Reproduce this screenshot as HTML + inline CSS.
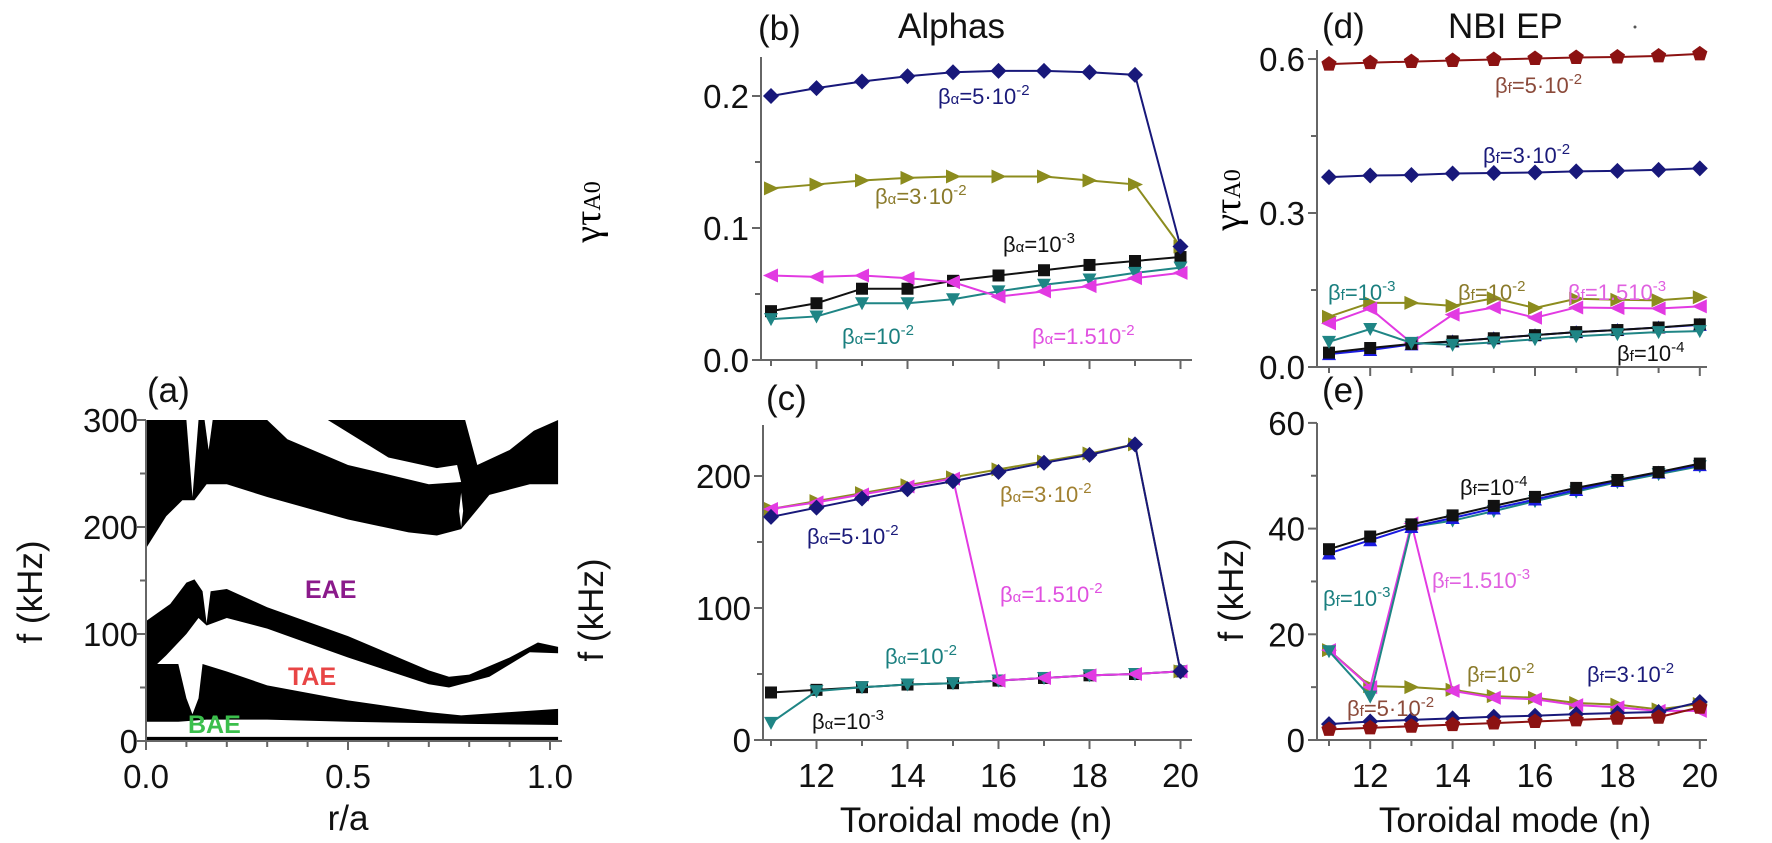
<!DOCTYPE html>
<html><head><meta charset="utf-8"><style>
html,body{margin:0;padding:0;background:#fff;}
svg{display:block;font-family:"Liberation Sans",sans-serif;}
.tl{font-size:33px;fill:#111;}
.hd{font-size:35px;fill:#111;}
.lb{font-size:22px;}
</style></head><body>
<svg id="fig" width="1772" height="843" viewBox="0 0 1772 843" xmlns="http://www.w3.org/2000/svg">
<g id="pa"></g>
<g id="pb"></g>
<g id="pc"></g>
<g id="pd"></g>
<g id="pe"></g>

<!-- headers -->
<text class="hd" x="147" y="402">(a)</text>
<text class="hd" x="758" y="40">(b)</text>
<text class="hd" x="898" y="38">Alphas</text>
<text class="hd" x="766" y="410">(c)</text>
<text class="hd" x="1322" y="38">(d)</text>
<text class="hd" x="1448" y="38">NBI EP</text>
<text class="hd" x="1322" y="402">(e)</text>
<circle cx="1635" cy="27" r="1.5" fill="#555"/>

<!-- axis titles -->
<text class="hd" transform="translate(42,592) rotate(-90)" text-anchor="middle">f (kHz)</text>
<text class="hd" x="348" y="830" text-anchor="middle">r/a</text>
<text transform="translate(600,212) rotate(-90)" text-anchor="middle" style="font-family:'Liberation Serif',serif;font-size:38px">γτ<tspan font-size="24px">A0</tspan></text>
<text class="hd" transform="translate(603,610) rotate(-90)" text-anchor="middle">f (kHz)</text>
<text class="hd" x="976" y="832" text-anchor="middle">Toroidal mode (n)</text>
<text transform="translate(1240,200) rotate(-90)" text-anchor="middle" style="font-family:'Liberation Serif',serif;font-size:38px">γτ<tspan font-size="24px">A0</tspan></text>
<text class="hd" transform="translate(1243,590) rotate(-90)" text-anchor="middle">f (kHz)</text>
<text class="hd" x="1515" y="832" text-anchor="middle">Toroidal mode (n)</text>

<!-- panel a labels -->
<text x="305" y="598" style="font-size:25px;font-weight:bold;fill:#8b1a8b">EAE</text>
<text x="288" y="685" style="font-size:25px;font-weight:bold;fill:#e84545">TAE</text>
<text x="188" y="733" style="font-size:25px;font-weight:bold;fill:#3bbf4c">BAE</text>

<!-- panel b labels -->
<text class="lb" x="938" y="104" fill="#1a1a7a">β<tspan font-size="15">α</tspan>=5·10<tspan dy="-9" font-size="15">-2</tspan></text>
<text class="lb" x="875" y="204" fill="#8a7a2a">β<tspan font-size="15">α</tspan>=3·10<tspan dy="-9" font-size="15">-2</tspan></text>
<text class="lb" x="1003" y="252" fill="#111">β<tspan font-size="15">α</tspan>=10<tspan dy="-9" font-size="15">-3</tspan></text>
<text class="lb" x="842" y="344" fill="#1a7f7f">β<tspan font-size="15">α</tspan>=10<tspan dy="-9" font-size="15">-2</tspan></text>
<text class="lb" x="1032" y="344" fill="#e050e0">β<tspan font-size="15">α</tspan>=1.510<tspan dy="-9" font-size="15">-2</tspan></text>
<!-- panel c labels -->
<text class="lb" x="807" y="544" fill="#1a1a7a">β<tspan font-size="15">α</tspan>=5·10<tspan dy="-9" font-size="15">-2</tspan></text>
<text class="lb" x="1000" y="502" fill="#a08030">β<tspan font-size="15">α</tspan>=3·10<tspan dy="-9" font-size="15">-2</tspan></text>
<text class="lb" x="1000" y="602" fill="#e050e0">β<tspan font-size="15">α</tspan>=1.510<tspan dy="-9" font-size="15">-2</tspan></text>
<text class="lb" x="885" y="664" fill="#1a7f7f">β<tspan font-size="15">α</tspan>=10<tspan dy="-9" font-size="15">-2</tspan></text>
<text class="lb" x="812" y="729" fill="#111">β<tspan font-size="15">α</tspan>=10<tspan dy="-9" font-size="15">-3</tspan></text>
<!-- panel d labels -->
<text class="lb" x="1495" y="93" fill="#8b4a3a">β<tspan font-size="15">f</tspan>=5·10<tspan dy="-9" font-size="15">-2</tspan></text>
<text class="lb" x="1483" y="163" fill="#1a1a7a">β<tspan font-size="15">f</tspan>=3·10<tspan dy="-9" font-size="15">-2</tspan></text>
<text class="lb" x="1328" y="300" fill="#1a7f7f">β<tspan font-size="15">f</tspan>=10<tspan dy="-9" font-size="15">-3</tspan></text>
<text class="lb" x="1458" y="300" fill="#8a7a2a">β<tspan font-size="15">f</tspan>=10<tspan dy="-9" font-size="15">-2</tspan></text>
<text class="lb" x="1568" y="300" fill="#e060e0">β<tspan font-size="15">f</tspan>=1.510<tspan dy="-9" font-size="15">-3</tspan></text>
<text class="lb" x="1617" y="361" fill="#111">β<tspan font-size="15">f</tspan>=10<tspan dy="-9" font-size="15">-4</tspan></text>
<!-- panel e labels -->
<text class="lb" x="1460" y="495" fill="#111">β<tspan font-size="15">f</tspan>=10<tspan dy="-9" font-size="15">-4</tspan></text>
<text class="lb" x="1323" y="606" fill="#1a7f7f">β<tspan font-size="15">f</tspan>=10<tspan dy="-9" font-size="15">-3</tspan></text>
<text class="lb" x="1432" y="588" fill="#e060e0">β<tspan font-size="15">f</tspan>=1.510<tspan dy="-9" font-size="15">-3</tspan></text>
<text class="lb" x="1467" y="682" fill="#8a7a2a">β<tspan font-size="15">f</tspan>=10<tspan dy="-9" font-size="15">-2</tspan></text>
<text class="lb" x="1587" y="682" fill="#1a1a7a">β<tspan font-size="15">f</tspan>=3·10<tspan dy="-9" font-size="15">-2</tspan></text>
<text class="lb" x="1347" y="716" fill="#8b4a3a">β<tspan font-size="15">f</tspan>=5·10<tspan dy="-9" font-size="15">-2</tspan></text>
</svg>
<script>
const nVals = [11,12,13,14,15,16,17,18,19,20];
// panel b (growth rate, alphas)
const b_5e2 = [0.200,0.206,0.211,0.215,0.218,0.219,0.219,0.218,0.216,0.086];
const b_3e2 = [0.130,0.133,0.136,0.138,0.139,0.139,0.139,0.136,0.133,0.086];
const b_1e3 = [0.037,0.043,0.054,0.054,0.060,0.064,0.068,0.072,0.075,0.078];
const b_1e2 = [0.031,0.033,0.043,0.043,0.046,0.052,0.057,0.061,0.066,0.070];
const b_15e2 = [0.064,0.063,0.064,0.062,0.059,0.048,0.052,0.056,0.062,0.066];
const bTicks = [0, 0.1, 0.2];
const bTickLabels = ["0.0","0.1","0.2"];
// panel c (frequency, alphas)
const c_3e2 = [175,181,187,193,199,205,211,217,224,52];
const c_15e2 = [175,180,186,192,198,45,47,49,50,52];
const c_1e3 = [36,38,40,42,43,45,47,49,50,52];
const c_1e2 = [13,37,40,42,43,45,47,49,50,52];
const c_5e2 = [169,176,183,190,196,203,210,216,224,52];
const cTicks = [0,100,200];
const cTickLabels = ["0","100","200"];
// panel d (growth rate, NBI)
const d_5e2 = [0.590,0.593,0.595,0.597,0.599,0.601,0.603,0.604,0.606,0.610];
const d_3e2 = [0.370,0.373,0.374,0.377,0.378,0.379,0.381,0.382,0.384,0.387];
const d_1e2 = [0.098,0.125,0.125,0.119,0.134,0.115,0.133,0.131,0.130,0.136];
const d_15e3 = [0.085,0.114,0.047,0.102,0.116,0.096,0.116,0.115,0.114,0.118];
const d_1e4b = [0.025,0.033,0.044,0.050,0.056,0.062,0.068,0.072,0.077,0.082];
const d_1e4 = [0.028,0.037,0.045,0.050,0.056,0.062,0.068,0.072,0.077,0.083];
const d_1e3 = [0.049,0.074,0.047,0.043,0.048,0.054,0.060,0.064,0.068,0.070];
const dTicks = [0,0.3,0.6];
const dTickLabels = ["0.0","0.3","0.6"];
// panel e (frequency, NBI)
const e_5e2 = [2.0,2.3,2.6,2.9,3.2,3.5,3.8,4.1,4.3,6.2];
const e_3e2 = [3.0,3.5,3.8,4.1,4.4,4.6,4.9,5.1,5.3,7.2];
const e_1e2 = [17,10.2,10.0,9.5,8.3,8.0,7.0,6.7,5.8,6.8];
const e_15e3 = [17,10,41,9.3,8.0,7.7,6.6,6.2,5.5,5.5];
const e_1e4 = [36.1,38.5,40.8,42.5,44.3,46,47.7,49.2,50.7,52.3];
const e_1e4b = [35.3,37.8,40.3,42,43.8,45.5,47.3,49,50.6,52];
const e_1e3 = [16.8,8.2,40.3,41.5,43.3,45.2,47,48.8,50.3,51.8];
const eTicks = [0,20,40,60];
const eTickLabels = ["0","20","40","60"];
const xTicksLabeled = [12,14,16,18,20];
// panel a spectrum bands [r, f]
const bandLowUpper = [[0,72],[0.08,72],[0.1,40],[0.115,25],[0.13,40],[0.14,72],[0.2,65],[0.3,52],[0.5,38],[0.7,27],[0.78,24],[0.9,27],[1.02,30]];
const bandLowLower = [[1.02,15],[0.8,16],[0.5,18],[0.3,20],[0.15,20],[0.08,18],[0,18]];
const bandTaeUpper = [[0,112],[0.06,128],[0.1,148],[0.12,151],[0.14,140],[0.15,110],[0.16,140],[0.2,142],[0.3,125],[0.5,98],[0.7,66],[0.75,60],[0.8,62],[0.9,78],[0.97,92],[1.02,88]];
const bandTaeLower = [[1.02,82],[0.95,83],[0.85,60],[0.75,50],[0.7,53],[0.5,78],[0.3,105],[0.2,115],[0.15,108],[0.13,115],[0.1,100],[0.05,80],[0,62]];
const bandEaeUpper = [[0,300],[1.02,300]];
const bandEaeLower = [[1.02,240],[0.95,240],[0.9,235],[0.85,230],[0.78,198],[0.72,192],[0.65,195],[0.5,207],[0.3,228],[0.2,240],[0.15,240],[0.12,225],[0.09,225],[0.05,210],[0,180]];
const gapNotch = [[0.1,300],[0.115,228],[0.13,300]];
const gapStrip = [[0.145,300],[0.165,300],[0.155,272]];
const gapWedge = [[0.3,300],[0.45,300],[0.6,265],[0.72,255],[0.77,258],[0.78,242],[0.7,240],[0.5,258],[0.35,282]];
const gapRight = [[0.79,300],[0.82,258],[0.9,272],[0.96,290],[1.02,300]];
const gapEllipse = [[0.78,232],[0.785,215],[0.78,200],[0.775,215]];
const aYTicks = [0,100,200,300];
const aXTicks = [0,0.5,1.0];
const aXLabels = ["0.0","0.5","1.0"];

const NS = "http://www.w3.org/2000/svg";
function mk(parent, tag, attrs){ const e=document.createElementNS(NS,tag); for(const k in attrs) e.setAttribute(k,attrs[k]); parent.appendChild(e); return e; }

function marker(g, shape, x, y, col){
  const s=7; let pts;
  if(shape==='square'){ const e=mk(g,'rect',{x:x-s+1,y:y-s+1,width:2*s-2,height:2*s-2,fill:col});   return; }
  if(shape==='diamond') pts=[[x,y-s-1],[x+s+1,y],[x,y+s+1],[x-s-1,y]];
  if(shape==='right') pts=[[x-s,y-s],[x+s+1,y],[x-s,y+s]];
  if(shape==='left') pts=[[x+s,y-s],[x-s-1,y],[x+s,y+s]];
  if(shape==='down') pts=[[x-s,y-s+1],[x+s,y-s+1],[x,y+s]];
  if(shape==='up') pts=[[x-s,y+s-1],[x+s,y+s-1],[x,y-s]];
  if(shape==='pent'){ pts=[]; for(let i=0;i<5;i++){const a=-Math.PI/2+i*2*Math.PI/5; pts.push([x+(s+1)*Math.cos(a),y+(s+1)*Math.sin(a)]);} }
  const e=mk(g,'polygon',{points:pts.map(p=>p.join(',')).join(' '),fill:col});
  
  
}

function panel(gid, cfg){
  const g=document.getElementById(gid);
  const X=n=>cfg.x0+(n-11)*cfg.dx;
  const Y=v=>cfg.y0-(v-0)*cfg.ky;
  const ax='#666';
  // axes
  const la=mk(g,'line',{x1:cfg.ax,y1:cfg.top,x2:cfg.ax,y2:cfg.y0,stroke:ax,'stroke-width':2});
   
  const ba=mk(g,'line',{x1:cfg.ax,y1:cfg.y0,x2:cfg.right,y2:cfg.y0,stroke:ax,'stroke-width':2});
   
  nVals.forEach(n=>{ const L=(n%2===0)?9:6;
    const t=mk(g,'line',{x1:X(n),y1:cfg.y0,x2:X(n),y2:cfg.y0+L,stroke:ax,'stroke-width':2});
      });
  if(cfg.xlabels){ xTicksLabeled.forEach(n=>{ const t=mk(g,'text',{x:X(n),y:cfg.y0+47,'text-anchor':'middle',class:'tl'}); t.textContent=n;
      }); }
  const tk=cfg.ticks, step=tk[1]-tk[0];
  tk.forEach((v,i)=>{
    const t=mk(g,'line',{x1:cfg.ax-9,y1:Y(v),x2:cfg.ax,y2:Y(v),stroke:ax,'stroke-width':2});
     
    const mv=v+step/2; if(Y(mv)>cfg.top){ const m=mk(g,'line',{x1:cfg.ax-6,y1:Y(mv),x2:cfg.ax,y2:Y(mv),stroke:ax,'stroke-width':2});
        }
    const l=mk(g,'text',{x:cfg.ax-12,y:Y(v)+12,'text-anchor':'end',class:'tl'}); l.textContent=cfg.tickLabels[i];
     
  });
  cfg.series.forEach(s=>{
    const sg=mk(g,'g',{});
     
    const pl=mk(sg,'polyline',{points:s.data.map((v,i)=>X(nVals[i])+','+Y(v)).join(' '),fill:'none',stroke:s.col,'stroke-width':2});
     
    s.data.forEach((v,i)=>marker(sg,s.shape,X(nVals[i]),Y(v),s.col));
  });
}
const NAVY='#18187a', OLIVE='#8c8c1e', TEAL='#1f8585', MAG='#e23ae2', RED='#8c1212', BLUE='#1a1ae0', BLK='#111';
panel('pb',{x0:771,dx:45.5,ax:761,right:1192,y0:360,ky:1320,top:57,ticks:bTicks,tickLabels:bTickLabels,xlabels:false,
  series:[{name:'b-1e-3',data:b_1e3,col:BLK,shape:'square'},{name:'b-1e-2',data:b_1e2,col:TEAL,shape:'down'},{name:'b-1.5e-2',data:b_15e2,col:MAG,shape:'left'},{name:'b-3e-2',data:b_3e2,col:OLIVE,shape:'right'},{name:'b-5e-2',data:b_5e2,col:NAVY,shape:'diamond'}]});
panel('pc',{x0:771,dx:45.5,ax:763,right:1192,y0:740,ky:1.32,top:425,ticks:cTicks,tickLabels:cTickLabels,xlabels:true,
  series:[{name:'c-1e-3',data:c_1e3,col:BLK,shape:'square'},{name:'c-1e-2',data:c_1e2,col:TEAL,shape:'down'},{name:'c-3e-2',data:c_3e2,col:OLIVE,shape:'right'},{name:'c-1.5e-2',data:c_15e2,col:MAG,shape:'left'},{name:'c-5e-2',data:c_5e2,col:NAVY,shape:'diamond'}]});
panel('pd',{x0:1329,dx:41.2,ax:1317,right:1707,y0:367,ky:513.3,top:50,ticks:dTicks,tickLabels:dTickLabels,xlabels:false,
  series:[{name:'d-1e-2',data:d_1e2,col:OLIVE,shape:'right'},{name:'d-1.5e-3',data:d_15e3,col:MAG,shape:'left'},{name:'d-1e-4-blue',data:d_1e4b,col:BLUE,shape:'up'},{name:'d-1e-4',data:d_1e4,col:BLK,shape:'square'},{name:'d-1e-3',data:d_1e3,col:TEAL,shape:'down'},{name:'d-3e-2',data:d_3e2,col:NAVY,shape:'diamond'},{name:'d-5e-2',data:d_5e2,col:RED,shape:'pent'}]});
panel('pe',{x0:1329,dx:41.2,ax:1317,right:1707,y0:740,ky:5.285,top:423,ticks:eTicks,tickLabels:eTickLabels,xlabels:true,
  series:[{name:'e-1e-2',data:e_1e2,col:OLIVE,shape:'right'},{name:'e-1.5e-3',data:e_15e3,col:MAG,shape:'left'},{name:'e-1e-3',data:e_1e3,col:TEAL,shape:'down'},{name:'e-1e-4-blue',data:e_1e4b,col:BLUE,shape:'up'},{name:'e-1e-4',data:e_1e4,col:BLK,shape:'square'},{name:'e-3e-2',data:e_3e2,col:NAVY,shape:'diamond'},{name:'e-5e-2',data:e_5e2,col:RED,shape:'pent'}]});

// panel a
(function(){
  const g=document.getElementById('pa');
  const X=r=>146+r*404, Y=f=>741-f*1.07;
  function poly(pts,fill,name){ const e=mk(g,'polygon',{points:pts.map(p=>X(p[0])+','+Y(p[1])).join(' '),fill:fill});
      }
  poly(bandEaeUpper.concat(bandEaeLower),'#000','eae-continuum-band');
  poly(gapNotch,'#fff','gap-notch');
  poly(gapStrip,'#fff','gap-strip');
  poly(gapWedge,'#fff','gap-wedge');
  poly(gapRight,'#fff','gap-right');
  poly(gapEllipse,'#fff','gap-ellipse');
  poly(bandTaeUpper.concat(bandTaeLower),'#000','tae-continuum-band');
  poly(bandLowUpper.concat(bandLowLower),'#000','bae-continuum-band');
  const bl=mk(g,'line',{x1:X(0),y1:Y(2),x2:X(1.02),y2:Y(2),stroke:'#000','stroke-width':4});
   
  const ax='#666';
  const la=mk(g,'line',{x1:146,y1:420,x2:146,y2:741,stroke:ax,'stroke-width':2});
   
  const ba=mk(g,'line',{x1:146,y1:741,x2:562,y2:741,stroke:ax,'stroke-width':2});
   
  aYTicks.forEach(v=>{
    const t=mk(g,'line',{x1:137,y1:Y(v),x2:146,y2:Y(v),stroke:ax,'stroke-width':2});
     
    if(v<300){ const m=mk(g,'line',{x1:140,y1:Y(v+50),x2:146,y2:Y(v+50),stroke:ax,'stroke-width':2});
        }
    const l=mk(g,'text',{x:138,y:Y(v)+12,'text-anchor':'end',class:'tl'}); l.textContent=v;
     
  });
  for(let i=0;i<=10;i++){ const r=i/10, L=(i%5===0)?9:6;
    const t=mk(g,'line',{x1:X(r),y1:741,x2:X(r),y2:741+L,stroke:ax,'stroke-width':2});
      }
  aXTicks.forEach((r,i)=>{ const l=mk(g,'text',{x:X(r),y:788,'text-anchor':'middle',class:'tl'}); l.textContent=aXLabels[i];
      });
})();
</script>
</body></html>
